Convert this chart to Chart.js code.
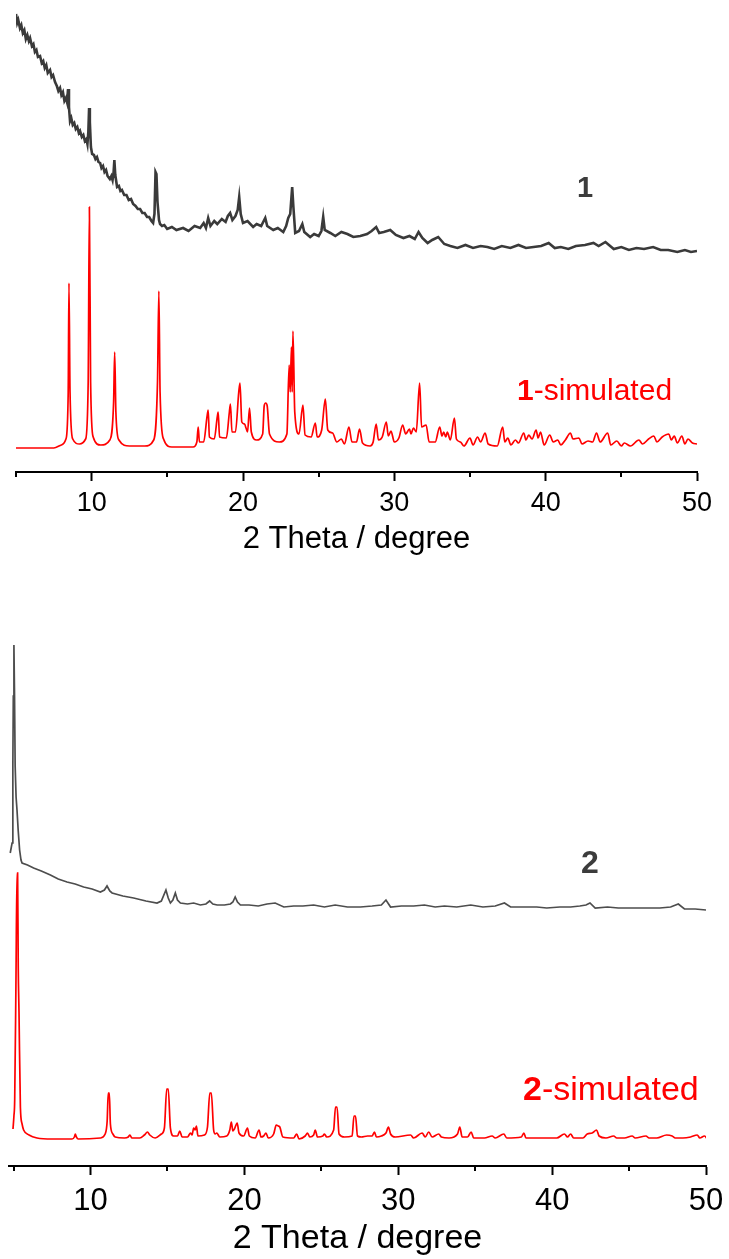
<!DOCTYPE html>
<html>
<head>
<meta charset="utf-8">
<script src="https://cdn.jsdelivr.net/npm/chart.js@4.4.0/dist/chart.umd.min.js"></script>
<style>
  body { margin: 0; background: #fff; width: 729px; height: 1259px; position: relative; overflow: hidden; }
  canvas { position: absolute; left: 0; }
  #chart1 { top: 0; }
  #chart2 { top: 562px; }
  .tag { position: absolute; font-family: 'Liberation Sans', Arial, sans-serif; line-height: 1; white-space: nowrap; }
  .tag b { font-weight: bold; }
</style>
</head>
<body>
<canvas id="chart1" width="729" height="555"></canvas>
<canvas id="chart2" width="729" height="694"></canvas>

<div class="tag" style="left:577px; top:173px; font-size:29px; color:#3c3c3c;"><b>1</b></div>
<div class="tag" style="left:517px; top:375px; font-size:30px; color:#ff0000;"><b>1</b>-simulated</div>
<div class="tag" style="left:581px; top:846px; font-size:32px; color:#3c3c3c;"><b>2</b></div>
<div class="tag" style="left:523px; top:1071px; font-size:34px; color:#ff0000;"><b>2</b>-simulated</div>

<script>
// x axis ticks (2 theta, degree)
const majorTicks = [10, 20, 30, 40, 50];
const minorTicks = [5, 15, 25, 35, 45];
const axisTitle = '2 Theta / degree';

// sample 1, measured pattern [2theta, intensity]
const exp1 = [
  [5.0,458],[5.08,449],[5.15,452],[5.26,444],[5.35,447],[5.45,439],[5.55,442],[5.65,433],[5.75,437],[5.85,431],
  [5.93,434],[6.05,426],[6.15,428],[6.25,420],[6.35,422],[6.45,415],[6.59,416],[6.7,409],[6.8,411],[6.9,404],
  [7.0,407],[7.1,399],[7.25,402],[7.35,395],[7.45,397],[7.58,390],[7.7,386],[7.8,381],[7.91,384],[8.0,377],
  [8.1,380],[8.2,371],[8.3,374],[8.37,370],[8.44,383],[8.5,365],[8.57,351],[8.65,354],[8.75,347],[8.85,349],
  [8.95,343],[9.05,345],[9.15,339],[9.23,341],[9.35,335],[9.45,337],[9.55,331],[9.65,333],[9.72,328],[9.78,340],
  [9.83,364],[9.88,350],[9.95,325],[10.03,318],[10.15,317],[10.25,313],[10.35,315],[10.45,310],[10.56,309],[10.65,304],
  [10.75,306],[10.85,300],[10.95,302],[11.05,296],[11.2,293],[11.3,296],[11.38,292],[11.45,300],[11.5,312],[11.56,297],
  [11.68,285],[11.8,286],[11.9,281],[12.0,282],[12.15,277],[12.3,277],[12.45,272],[12.6,273],[12.74,268],[12.9,266],
  [13.05,263],[13.2,263],[13.35,259],[13.5,259],[13.66,255],[13.8,255],[13.95,251],[14.06,249],[14.15,258],[14.22,300],
  [14.28,298],[14.35,270],[14.45,252],[14.52,248],[14.65,246],[14.8,247],[14.99,243],[15.3,245],[15.6,242],[16.04,244],
  [16.4,241],[16.8,246],[17.17,244],[17.4,249],[17.55,244],[17.7,254],[17.85,246],[18.1,251],[18.3,248],[18.6,253],
  [18.85,250],[19.0,256],[19.15,259],[19.3,252],[19.5,256],[19.65,262],[19.75,275],[19.85,258],[20.0,249],[20.3,251],
  [20.67,245],[20.9,248],[21.2,246],[21.47,254],[21.6,246],[22.0,242],[22.3,244],[22.66,240],[22.85,246],[22.99,254],
  [23.12,258],[23.25,285],[23.33,265],[23.45,239],[23.7,241],[23.92,248],[24.05,240],[24.44,235],[24.7,238],[25.0,236],
  [25.18,241],[25.3,255],[25.4,242],[25.77,239],[26.1,236],[26.5,240],[26.9,238],[27.29,235],[27.75,236],[28.2,238],
  [28.5,241],[28.8,245],[29.0,239],[29.3,240],[29.73,242],[30.1,237],[30.6,234],[31.0,236],[31.35,233],[31.6,240],
  [31.85,234],[32.2,229],[32.5,232],[32.9,235],[33.3,228],[33.7,226],[34.17,224],[34.7,227],[35.2,224],[35.7,226],
  [36.15,225],[36.6,223],[37.1,226],[37.67,224],[38.2,227],[38.7,224],[39.2,225],[39.7,226],[40.2,229],[40.6,224],
  [41.0,225],[41.5,223],[42.0,226],[42.6,227],[43.16,229],[43.5,226],[43.95,230],[44.5,223],[45.0,225],[45.5,222],
  [46.0,224],[46.5,223],[47.1,225],[47.6,222],[48.1,222],[48.7,220],[49.2,222],[49.6,220],[50.0,221]
];

// sample 1, simulated pattern
const sim1 = [
  [5,24],[7.5,24],[8.0,27],[8.3,33],[8.45,80],[8.5,189],[8.57,80],[8.75,33],[9.2,28],[9.6,33],
  [9.77,90],[9.85,265],[9.93,90],[10.1,35],[10.6,27],[11.2,32],[11.45,70],[11.52,120],[11.6,60],[11.8,32],
  [12.5,26],[13.5,26],[14.1,32],[14.35,90],[14.44,181],[14.52,80],[14.75,33],[15.3,25],[16.7,25],[16.95,30],
  [17.04,45],[17.12,30],[17.4,30],[17.62,55],[17.7,62],[17.78,35],[18.1,33],[18.3,55],[18.36,60],[18.45,35],
  [18.9,34],[19.1,60],[19.17,68],[19.27,40],[19.5,40],[19.72,80],[19.8,89],[19.92,50],[20.1,48],[20.2,44],
  [20.3,40],[20.43,64],[20.55,40],[20.9,32],[21.3,38],[21.4,66],[21.5,69],[21.6,66],[21.75,38],[22.4,30],
  [22.9,38],[23.05,107],[23.12,80],[23.2,125],[23.25,80],[23.3,141],[23.42,60],[23.7,38],[23.96,67],[24.1,37],
  [24.5,35],[24.78,49],[24.9,35],[25.2,42],[25.44,73],[25.6,42],[25.92,39],[26.2,30],[26.5,33],[26.7,28],
  [27.0,45],[27.2,30],[27.5,30],[27.7,43],[27.9,29],[28.4,26],[28.6,30],[28.8,48],[28.95,32],[29.2,35],
  [29.47,50],[29.6,36],[29.78,41],[30.0,30],[30.3,34],[30.55,47],[30.75,38],[31.0,43],[31.1,38],[31.26,44],
  [31.45,40],[31.67,89],[31.8,45],[32.1,47],[32.3,30],[32.7,30],[33.0,45],[33.15,36],[33.26,40],[33.4,35],
  [33.5,40],[33.7,32],[33.97,54],[34.1,33],[34.37,30],[34.6,26],[35.0,34],[35.2,27],[35.5,35],[35.7,30],
  [36.0,39],[36.2,28],[36.8,26],[37.16,45],[37.3,30],[37.5,34],[37.7,27],[38.0,32],[38.2,29],[38.55,39],
  [38.7,32],[38.88,37],[39.1,33],[39.37,42],[39.5,34],[39.66,40],[39.9,27],[40.27,37],[40.5,30],[40.8,32],
  [41.0,27],[41.3,32],[41.64,39],[41.8,33],[42.2,34],[42.4,28],[42.8,31],[43.1,30],[43.36,39],[43.6,30],
  [44.1,39],[44.3,27],[44.7,31],[45.0,26],[45.2,29],[45.6,26],[46.16,32],[46.4,28],[46.8,33],[47.15,36],
  [47.35,30],[47.7,35],[48.14,38],[48.3,32],[48.5,36],[48.7,29],[49.0,36],[49.2,28],[49.4,33],[49.7,29],[50,28]
];

// sample 2, measured pattern
const exp2 = [
  [4.78,313],[4.9,323],[4.95,400],[4.98,470],[5.02,521],[5.06,470],[5.1,400],[5.16,369],[5.22,356],[5.3,335],
  [5.39,316],[5.48,306],[5.55,303],[5.9,301],[6.3,298],[6.8,295],[7.39,291],[7.9,287],[8.47,284],[9.0,282],
  [9.55,279],[10.1,277],[10.64,274],[10.9,276],[11.07,280],[11.25,275],[11.4,273],[12.1,270],[12.8,268],[13.6,265],
  [14.32,263],[14.6,265],[14.9,276],[15.05,268],[15.19,263],[15.35,266],[15.51,273],[15.65,266],[15.84,263],[16.3,262],
  [16.7,263],[17.14,261],[17.5,262],[17.74,265],[17.95,262],[18.23,261],[18.7,261],[19.09,262],[19.25,264],[19.4,269],
  [19.55,264],[19.74,261],[20.3,261],[20.9,260],[21.47,262],[22.0,263],[22.56,259],[23.2,260],[23.8,260],[24.5,261],
  [25.2,259],[25.9,261],[26.7,259],[27.54,259],[28.3,260],[28.9,261],[29.2,266],[29.5,259],[30.2,260],[31.0,260],
  [31.7,261],[32.4,259],[33.0,260],[33.8,259],[34.71,261],[35.5,259],[36.3,260],[36.9,263],[37.3,259],[38.2,259],
  [39.0,259],[39.65,258],[40.5,259],[41.2,259],[41.8,260],[42.2,261],[42.46,263],[42.8,258],[43.6,259],[44.3,258],
  [44.88,258],[45.7,258],[46.4,258],[47.0,258],[47.7,259],[48.2,262],[48.6,257],[49.3,257],[50.0,256]
];

// sample 2, simulated pattern
const sim2 = [
  [4.96,37],[5.02,50],[5.07,66],[5.15,180],[5.22,293],[5.26,293],[5.3,200],[5.35,154],[5.44,59],[5.55,42],
  [5.65,36],[6.0,31],[6.52,28],[7.5,27],[8.8,27],[8.95,29],[9.01,32],[9.08,29],[9.2,27],[10.64,28],
  [10.95,32],[11.08,45],[11.15,73],[11.22,73],[11.29,42],[11.45,32],[11.6,29],[12.2,28],[12.45,29],[12.56,31],
  [12.68,28],[13.2,28],[13.5,31],[13.7,34],[13.85,31],[14.2,28],[14.6,32],[14.8,38],[14.95,77],[15.05,77],
  [15.19,38],[15.4,30],[15.65,30],[15.8,35],[15.95,29],[16.3,29],[16.5,33],[16.6,31],[16.7,38],[16.8,36],
  [16.88,40],[16.98,30],[17.4,31],[17.6,39],[17.75,73],[17.85,73],[18.0,36],[18.1,32],[18.2,33],[18.4,29],
  [18.85,30],[19.05,36],[19.15,44],[19.25,35],[19.35,37],[19.53,43],[19.65,33],[19.95,30],[20.2,38],[20.32,30],
  [20.7,28],[20.95,36],[21.08,29],[21.25,30],[21.4,33],[21.55,28],[21.9,32],[22.07,41],[22.2,40],[22.3,39],
  [22.5,29],[23.2,28],[23.4,32],[23.55,27],[23.95,30],[24.1,33],[24.25,29],[24.5,31],[24.6,36],[24.75,29],
  [25.1,30],[25.2,32],[25.35,29],[25.8,36],[25.92,59],[26.02,59],[26.15,32],[26.5,29],[27.0,30],[27.12,50],
  [27.22,50],[27.35,30],[27.6,29],[28.0,30],[28.3,30],[28.45,34],[28.58,29],[28.9,30],[29.2,33],[29.36,39],
  [29.5,32],[29.8,29],[30.8,31],[31.0,28],[31.55,33],[31.75,29],[31.98,34],[32.2,29],[32.63,32],[32.8,29],
  [33.3,28],[33.85,32],[34.0,39],[34.15,29],[34.5,29],[34.74,34],[34.9,28],[35.6,28],[36.1,30],[36.3,28],
  [36.86,32],[37.05,28],[38.0,29],[38.16,33],[38.3,28],[39.0,28],[39.7,28],[40.3,28],[40.8,32],[41.0,29],
  [41.2,32],[41.4,28],[42.0,28],[42.28,32],[42.6,33],[42.89,36],[43.05,30],[43.5,28],[44.0,30],[44.2,28],
  [44.7,28],[45.2,30],[45.4,28],[46.1,30],[46.3,28],[46.8,28],[47.44,31],[47.8,30],[48.0,28],[48.5,28],
  [49.0,29],[49.43,31],[49.6,28],[49.9,30],[50.08,27]
];

const fontFamily = "'Liberation Sans', Arial, sans-serif";

// short ticks for the odd multiples of 5
const minorTickPlugin = {
  id: 'minorTicks',
  afterDraw(chart) {
    const scale = chart.scales.x;
    const ctx = chart.ctx;
    ctx.save();
    ctx.strokeStyle = '#000';
    ctx.lineWidth = 2;
    minorTicks.forEach(v => {
      const px = Math.round(scale.getPixelForValue(v));
      ctx.beginPath();
      ctx.moveTo(px, scale.top);
      ctx.lineTo(px, scale.top + 5);
      ctx.stroke();
    });
    ctx.restore();
  }
};

function toPoints(list) {
  return list.map(p => ({ x: p[0], y: p[1] }));
}

function makeChart(id, expData, simData, expColor, cfg) {
  return new Chart(document.getElementById(id).getContext('2d'), {
    type: 'line',
    data: {
      datasets: [
        { data: toPoints(expData), borderColor: expColor, borderWidth: cfg.expWidth, pointRadius: 0, tension: 0 },
        { data: toPoints(simData), borderColor: '#ff0000', borderWidth: 1.7, pointRadius: 0, cubicInterpolationMode: 'monotone' }
      ]
    },
    options: {
      responsive: false,
      animation: false,
      devicePixelRatio: 1,
      layout: { padding: { left: cfg.padLeft, right: cfg.padRight, top: 0, bottom: 0 } },
      plugins: { legend: { display: false }, tooltip: { enabled: false } },
      scales: {
        x: {
          type: 'linear',
          min: cfg.xMin,
          max: 50,
          afterBuildTicks: scale => { scale.ticks = majorTicks.map(v => ({ value: v })); },
          // the end labels fit inside the layout padding already
          afterFit: scale => { scale.paddingLeft = 0; scale.paddingRight = 0; },
          border: { display: true, color: '#000', width: 2 },
          grid: { drawOnChartArea: false, drawTicks: true, tickLength: 9, tickWidth: 2, tickColor: '#000' },
          ticks: { color: '#000', padding: cfg.tickPad, maxRotation: 0, font: { family: fontFamily, size: cfg.tickSize, lineHeight: 1 } },
          title: { display: true, text: axisTitle, color: '#000', padding: { top: cfg.titlePad, bottom: 0 }, font: { family: fontFamily, size: cfg.titleSize, lineHeight: 1 } }
        },
        y: { display: false, min: 0, max: cfg.yMax }
      }
    },
    plugins: [minorTickPlugin]
  });
}

makeChart('chart1', exp1, sim1, '#3a3a3a', {
  xMin: 5, yMax: 472, padLeft: 16, padRight: 32, tickPad: 9, titlePad: -2, tickSize: 27, titleSize: 31, expWidth: 2.6
});
makeChart('chart2', exp2, sim2, '#4d4d4d', {
  xMin: 4.7, yMax: 604, padLeft: 9, padRight: 23, tickPad: 11, titlePad: -6, tickSize: 31, titleSize: 34, expWidth: 1.7
});
</script>
</body>
</html>
